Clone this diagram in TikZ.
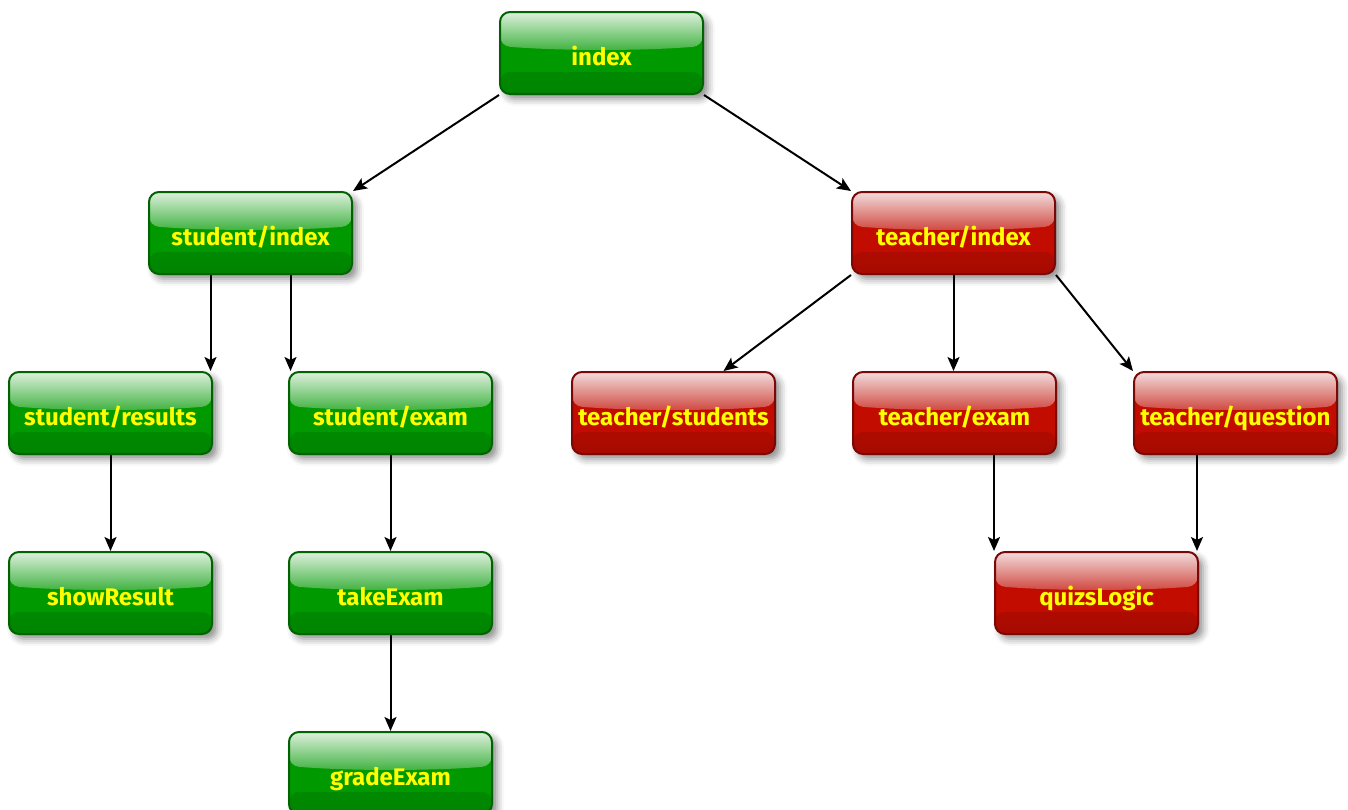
\documentclass[tikz,border=0pt]{standalone}
\usepackage{fontspec}
\setmainfont{Fira Sans}
\usetikzlibrary{arrows.meta,shadows.blur}

\definecolor{gbase}{HTML}{009900}
\definecolor{gedge}{HTML}{006200}
\definecolor{gtop}{HTML}{DDF0DD}
\definecolor{rbase}{HTML}{C20C00}
\definecolor{redge}{HTML}{7A0806}
\definecolor{rtop}{HTML}{F2DCDC}
\definecolor{txt}{HTML}{FFFF00}
\definecolor{shd}{HTML}{5A62B0}

\tikzset{
  page box/.style={
    minimum width=203pt, minimum height=82pt, inner sep=0pt,
    rounded corners=10pt, line width=2pt,
    text height=24pt, text depth=0pt,
    text=txt, font=\fontsize{24}{28}\selectfont\bfseries,
    blur shadow={shadow xshift=5pt, shadow yshift=-5pt,
      shadow blur radius=7pt, shadow opacity=45, fill=shd}},
  glass/.style n args={3}{
    page box, draw=#2, fill=#1,
    path picture={
      % slightly darker band along the lower edge
      \fill[top color=#1, bottom color=#1!86!black]
        ([yshift=22pt]path picture bounding box.south west)
        rectangle (path picture bounding box.south east);
      % glossy highlight on the upper part
      \fill[top color=#3, bottom color=#3!28!#1]
        (path picture bounding box.north west)
        -- ([yshift=-34pt]path picture bounding box.north west)
        .. controls +(60pt,-5pt) and +(-60pt,-5pt)
        .. ([yshift=-34pt]path picture bounding box.north east)
        -- (path picture bounding box.north east) -- cycle;
    }},
  greenbox/.style={glass={gbase}{gedge}{gtop}},
  redbox/.style={glass={rbase}{redge}{rtop}},
  arr/.style={-{Stealth[length=14pt,width=12pt,inset=3pt]}, line width=2pt, black}
}

\begin{document}
\begin{tikzpicture}[x=1pt,y=-1pt]
  \useasboundingbox (0,0) rectangle (1348,809);

  % top level
  \node[greenbox] (idx) at (601.5,53) {index};

  % second level
  \node[greenbox] (sidx) at (250.5,233) {student/index};
  \node[redbox]   (tidx) at (953.5,233) {teacher/index};

  % third level
  \node[greenbox] (sres)  at (110.5,413)  {student/results};
  \node[greenbox] (sexam) at (390.5,413)  {student/exam};
  \node[redbox]   (tstu)  at (673.5,413)  {teacher/students};
  \node[redbox]   (texam) at (954.5,413)  {teacher/exam};
  \node[redbox]   (tq)    at (1235.5,413) {teacher/question};

  % fourth level
  \node[greenbox] (show) at (110.5,593)  {showResult};
  \node[greenbox] (take) at (390.5,593)  {takeExam};
  \node[redbox]   (quiz) at (1096.5,593) {quizsLogic};

  % fifth level
  \node[greenbox] (grade) at (390.5,773) {gradeExam};

  % connectors
  \draw[arr] (idx.south west) -- (sidx.north east);
  \draw[arr] (idx.south east) -- (tidx.north west);

  \draw[arr] ([xshift=-40pt]sidx.south) -- ([xshift=-40pt]sidx.south |- sres.north);
  \draw[arr] ([xshift=40pt]sidx.south) -- ([xshift=40pt]sidx.south |- sexam.north);
  \draw[arr] (sres) -- (show);
  \draw[arr] (sexam) -- (take);
  \draw[arr] (take) -- (grade);

  \draw[arr] (tidx.south west) -- ([xshift=50pt]tstu.north);
  \draw[arr] (tidx.south) -- (texam.north -| tidx.south);
  \draw[arr] (tidx.south east) -- (tq.north west);

  \draw[arr] (quiz.north west |- texam.south) -- (quiz.north west);
  \draw[arr] ([xshift=-2pt]quiz.north east |- tq.south) -- ([xshift=-2pt]quiz.north east);
\end{tikzpicture}
\end{document}
